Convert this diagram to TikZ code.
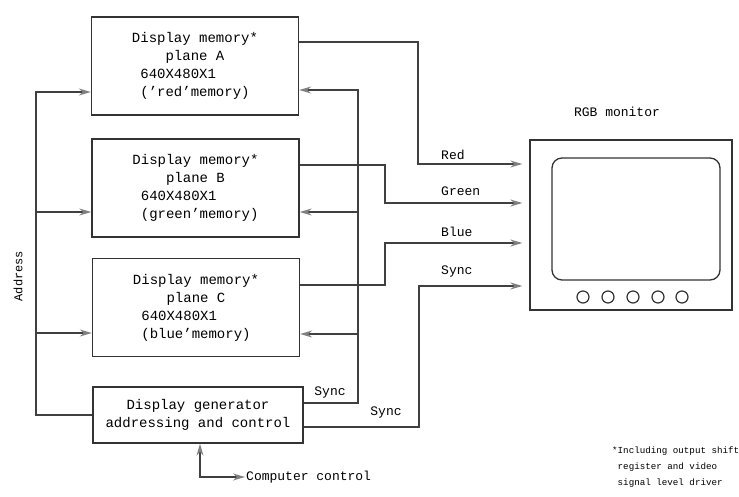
\documentclass[tikz,border=0pt]{standalone}
\usepackage{fontspec}
\setmainfont{Liberation Mono}
\usetikzlibrary{arrows.meta}

\begin{document}
\begin{tikzpicture}[x=1pt,y=-1pt,
  mem/.style={draw=black!80, line width=1.4pt, minimum width=207pt, minimum height=98pt, align=left, font=\fontsize{14}{18}\selectfont},
  sig/.style={draw=black!75, line width=1.3pt, -{Stealth[length=12pt,width=7pt,color=gray]}},
  lbl/.style={font=\fontsize{13}{15}\selectfont, inner sep=1pt}]
\useasboundingbox (0,0) rectangle (739,497);

% memory planes and generator
\node[mem] (memA) at (195,66) {Display memory*\\\phantom{0000}plane A\\\phantom{0}640X480X1\\\phantom{0}('red'memory)};
\node[mem] (memB) at (195.5,188) {Display memory*\\\phantom{0000}plane B\\\phantom{0}640X480X1\\\phantom{0}(green'memory)};
\node[mem] (memC) at (196,307.5) {Display memory*\\\phantom{0000}plane C\\\phantom{0}640X480X1\\\phantom{0}(blue'memory)};
\node[mem, minimum width=210pt, minimum height=56pt, align=center] (gen) at (198,415) {Display generator\\addressing and control};

% address bus
\coordinate (aA) at (36,92);
\coordinate (aB) at (36,212);
\coordinate (aC) at (36,333);
\coordinate (aD) at (36,415);
\path[sig] (gen.west) -- (aD) -- (aA) -- (aA -| memA.west);
\path[sig] (aB) -- (aB -| memB.west);
\path[sig] (aC) -- (aC -| memC.west);
\node[rotate=90, font=\fontsize{12}{14}\selectfont] (addr) at (18,276) {Address};

% sync bus back to the planes
\coordinate (sA) at (358,90);
\coordinate (sB) at (358,212);
\coordinate (sC) at (358,334);
\coordinate (sD) at (358,403);
\path[sig] (sD -| gen.east) -- (sD) -- (sA) -- (sA -| memA.east);
\path[sig] (sB) -- (sB -| memB.east);
\path[sig] (sC) -- (sC -| memC.east);
\node[lbl] (lSyncA) at (330,392) {Sync};

% monitor
\node[draw=black!80, line width=1.3pt, minimum width=202pt, minimum height=170pt] (mon) at (631,225) {};
\node[draw=black!80, line width=1.3pt, rounded corners=10pt, minimum width=168pt, minimum height=122pt] (scr) at (636,219) {};
\foreach \i/\x in {1/583,2/608,3/633,4/658,5/682}
  \node[draw=black!80, line width=1.2pt, circle, minimum size=12pt, inner sep=0pt] (k\i) at (\x,297) {};
\node[lbl] (rgb) at (617,112) {RGB monitor};

% colour and sync lines
\coordinate (red1) at (418,42);
\coordinate (red2) at (418,164);
\coordinate (grn1) at (385,165);
\coordinate (grn2) at (385,203);
\coordinate (blu1) at (385,285);
\coordinate (blu2) at (385,243);
\coordinate (syn1) at (419,427);
\coordinate (syn2) at (419,286);
\path[sig] (red1 -| memA.east) -- (red1) -- (red2) -- ([xshift=-7pt]red2 -| mon.west);
\path[sig] (grn1 -| memB.east) -- (grn1) -- (grn2) -- ([xshift=-7pt]grn2 -| mon.west);
\path[sig] (blu1 -| memC.east) -- (blu1) -- (blu2) -- ([xshift=-7pt]blu2 -| mon.west);
\path[sig] (syn1 -| gen.east) -- (syn1) -- (syn2) -- ([xshift=-7pt]syn2 -| mon.west);
\node[lbl, anchor=west] (lRed) at (440,155) {Red};
\node[lbl, anchor=west] (lGreen) at (440,191) {Green};
\node[lbl, anchor=west] (lBlue) at (440,232) {Blue};
\node[lbl, anchor=west] (lSyncB) at (440,272) {Sync};
\node[lbl] (lSyncC) at (386,412) {Sync};

% computer control
\node[lbl, anchor=west] (cc) at (245,477) {Computer control};
\coordinate (cc1) at (200,477);
\path[draw=black!75, line width=1.3pt, {Stealth[length=12pt,width=7pt,color=gray]}-{Stealth[length=12pt,width=7pt,color=gray]}] (cc1 |- gen.south) -- (cc1) -- (cc.west);

% footnote
\node[font=\fontsize{9.2}{16}\selectfont, align=left, anchor=north west, inner sep=0pt] (note) at (612,447) {*Including output shift\\\phantom{*}register and video\\\phantom{*}signal level driver};
\end{tikzpicture}
\end{document}
